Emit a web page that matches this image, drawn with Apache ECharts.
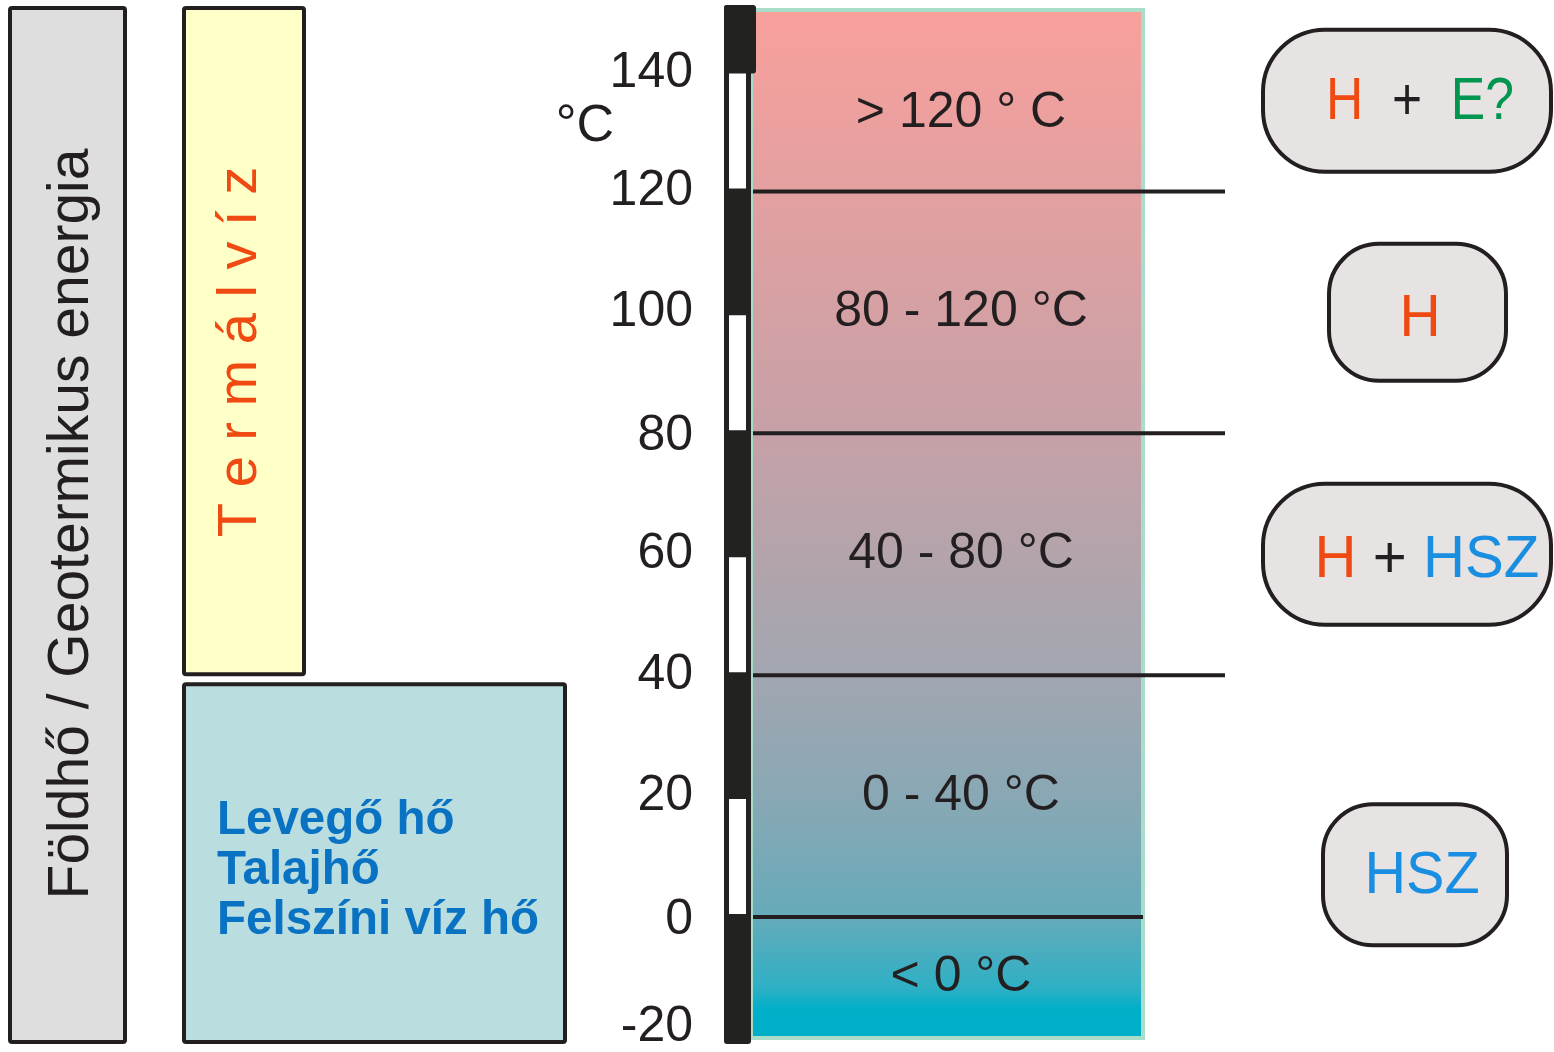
<!DOCTYPE html>
<html><head><meta charset="utf-8">
<script src="https://cdn.jsdelivr.net/npm/echarts@6/dist/echarts.min.js"></script>
<style>html,body{margin:0;padding:0;background:#fff;overflow:hidden}#c{width:1554px;height:1052px}</style>
</head><body><div id="c"></div>
<script>
// ---- data ----
const tempTicks = [-20, 0, 20, 40, 60, 80, 100, 120, 140];
const axisRange = [-20, 150];
const dividers = [120, 80, 40, 0];
const dividerLong = [true, true, true, false];
const bandLabels = ['> 120 ° C', '80 - 120 °C', '40 - 80 °C', '0 - 40 °C', '< 0 °C'];
const bandLabelTemps = [133, 100, 60, 20, -10];
const whiteSegments = [[120, 140], [80, 100], [40, 60], [0, 20]];
const columnNames = ['Földhő / Geotermikus energia', 'T e r m á l v í z', 'Levegő hő\nTalajhő\nFelszíni víz hő'];
const columnRanges = [[-20, 150], [40, 150], [-20, 38.5]];
const useLabels = ['H  +  E?', 'H', 'H + HSZ', 'HSZ'];
const useTemps = [135, 100, 60, 7];

// ---- styling / layout ----
const FONT = '"Liberation Sans", Arial, sans-serif';
const INK = '#231F20';
const colLayout = [
  {x0: 10, x1: 125, fill: '#DEDEDE', padT: -2, padB: 4, tx: 72, ty: 524, rot: Math.PI / 2, size: 57, color: INK, align: 'center', weight: 'normal', lh: 50},
  {x0: 184, x1: 304, fill: '#FFFFC8', padT: -2, padB: -1, tx: 241, ty: 352, rot: Math.PI / 2, size: 56, color: '#EF4A12', align: 'center', weight: 'normal', lh: 50},
  {x0: 184, x1: 565, fill: '#BADDDF', padT: 0, padB: 4, tx: 217, ty: 871, rot: 0, size: 47.5, color: '#0A72C2', align: 'left', weight: 'bold', lh: 50}
];
const badgeLayout = [
  {x0: 1263, x1: 1551, h: 142, r: 62, tx: 1420, dy: 2, sx: 0.86},
  {x0: 1329, x1: 1506, h: 137, r: 50, tx: 1420, dy: 7, sx: 0.95},
  {x0: 1263, x1: 1551, h: 141, r: 62, tx: 1427, dy: 6, sx: 0.97},
  {x0: 1323, x1: 1507, h: 141, r: 50, tx: 1422, dy: 2, sx: 0.96}
];
const BAR_X0 = 724, BAR_X1 = 751;

function yOf(api, v) { return api.coord([0, v])[1]; }

function richLabel(s) {
  return s.replace(/HSZ|H|E\?|\+/g, m =>
    m === 'HSZ' ? '{s|HSZ}' : m === 'H' ? '{h|H}' : m === '+' ? '{p|+}' : '{e|E?}');
}

const chart = echarts.init(document.getElementById('c'), null, {renderer: 'canvas'});

const tickRich = {
  a: {fontSize: 50, fontFamily: FONT, color: INK},
  d: {fontSize: 50, fontFamily: FONT, color: INK, padding: [6, 0, 0, 0]},
  b: {fontSize: 50, fontFamily: FONT, color: INK, padding: [0, 0, 22, 0]}
};

const option = {
  animation: false,
  backgroundColor: '#ffffff',
  grid: {left: 751, right: 1554 - 1143, top: 10, bottom: 11},
  xAxis: {type: 'value', min: 0, max: 1, show: false},
  yAxis: {
    type: 'value', min: axisRange[0], max: axisRange[1], interval: 20,
    axisLine: {show: false}, axisTick: {show: false}, splitLine: {show: false},
    axisLabel: {
      margin: 58, color: INK, fontSize: 50, fontFamily: FONT,
      formatter: v => {
        if (!tempTicks.includes(v)) return '';
        const k = v === -20 ? 'b' : (v === 140 || v === 0 || v === 80) ? 'd' : 'a';
        return '{' + k + '|' + v + '}';
      },
      rich: tickRich
    }
  },
  graphic: [
    {type: 'text', x: 585, y: 127, z: 10,
     style: {text: '°C', fontSize: 52, fontFamily: FONT, fill: INK, align: 'center', verticalAlign: 'middle'}}
  ],
  series: [
    // left columns
    {
      type: 'custom', clip: false, z: 1, silent: true,
      data: columnRanges.map(r => [0, r[0], r[1]]),
      renderItem: (params, api) => {
        const L = colLayout[params.dataIndex];
        const yT = yOf(api, api.value(2)) + L.padT;
        const yB = yOf(api, api.value(1)) + L.padB;
        return {type: 'group', children: [
          {type: 'rect', shape: {x: L.x0, y: yT, width: L.x1 - L.x0, height: yB - yT, r: 2},
           style: {fill: L.fill, stroke: INK, lineWidth: 4}},
          {type: 'text', x: L.tx, y: L.ty, rotation: L.rot,
           style: {text: columnNames[params.dataIndex], fontSize: L.size, fontFamily: FONT, fontWeight: L.weight,
                   fill: L.color, align: L.align, verticalAlign: 'middle', lineHeight: L.lh}}
        ]};
      }
    },
    // gradient temperature column
    {
      type: 'custom', clip: false, z: 2, silent: true,
      data: [[0, axisRange[0], axisRange[1]]],
      renderItem: (params, api) => {
        const cs = params.coordSys;
        const yT = yOf(api, api.value(2));
        const yB = yOf(api, api.value(1));
        return {type: 'rect', shape: {x: cs.x, y: yT, width: cs.width, height: yB - yT},
          style: {
            fill: new echarts.graphic.LinearGradient(0, 0, 0, 1, [
              {offset: 0, color: '#F9A09B'},
              {offset: 0.18, color: '#E3A0A1'},
              {offset: 0.41, color: '#C6A1A7'},
              {offset: 0.64, color: '#A3A6B0'},
              {offset: 0.78, color: '#85A8B5'},
              {offset: 0.88, color: '#66AAB9'},
              {offset: 0.95, color: '#2EB0C5'},
              {offset: 0.97, color: '#00AFC7'},
              {offset: 1, color: '#00AFC7'}
            ]),
            stroke: '#A9DCC9', lineWidth: 4
          }};
      }
    },
    // divider lines
    {
      type: 'custom', clip: false, z: 3, silent: true,
      data: dividers.map(d => [0, d]),
      renderItem: (params, api) => {
        const cs = params.coordSys;
        const y = yOf(api, api.value(1));
        const x1 = dividerLong[params.dataIndex] ? 1225 : cs.x + cs.width;
        return {type: 'line', shape: {x1: cs.x + 2, y1: y, x2: x1, y2: y},
          style: {stroke: INK, lineWidth: 4}};
      }
    },
    // band labels
    {
      type: 'custom', clip: false, z: 4, silent: true,
      data: bandLabelTemps.map(t => [0, t]),
      renderItem: (params, api) => {
        const cs = params.coordSys;
        const y = yOf(api, api.value(1));
        return {type: 'text', x: cs.x + cs.width / 2 + 14, y: y,
          style: {text: bandLabels[params.dataIndex], fontSize: 50, fontFamily: FONT, fill: INK,
                  align: 'center', verticalAlign: 'middle'}};
      }
    },
    // black scale bar
    {
      type: 'custom', clip: false, z: 5, silent: true,
      data: [[0, axisRange[0], axisRange[1]]],
      renderItem: (params, api) => {
        const yT = yOf(api, api.value(2)) - 5;
        const yB = yOf(api, api.value(1)) + 6;
        const y140 = yOf(api, 140) + 3;
        return {type: 'group', children: [
          {type: 'rect', shape: {x: BAR_X0, y: yT, width: BAR_X1 - BAR_X0, height: yB - yT, r: 3},
           style: {fill: '#222220'}},
          {type: 'rect', shape: {x: BAR_X0, y: yT, width: BAR_X1 - BAR_X0 + 5, height: y140 - yT, r: 3},
           style: {fill: '#222220'}}
        ]};
      }
    },
    // white scale segments
    {
      type: 'custom', clip: false, z: 6, silent: true,
      data: whiteSegments.map(s => [0, s[0], s[1]]),
      renderItem: (params, api) => {
        const yT = yOf(api, api.value(2)) + 3;
        const yB = yOf(api, api.value(1)) - 3;
        return {type: 'rect', shape: {x: BAR_X0 + 5, y: yT, width: 17, height: yB - yT},
          style: {fill: '#FFFFFF'}};
      }
    },
    // usage badges
    {
      type: 'custom', clip: false, z: 7, silent: true,
      data: useTemps.map(t => [0, t]),
      renderItem: (params, api) => {
        const B = badgeLayout[params.dataIndex];
        const yc = yOf(api, api.value(1));
        return {type: 'group', children: [
          {type: 'rect', shape: {x: B.x0, y: yc - B.h / 2, width: B.x1 - B.x0, height: B.h, r: B.r},
           style: {fill: '#E7E3E3', stroke: INK, lineWidth: 4}},
          {type: 'text', x: B.tx, y: yc + B.dy, scaleX: B.sx,
           style: {text: richLabel(useLabels[params.dataIndex]), fontSize: 60, fontFamily: FONT, fill: INK,
                   align: 'center', verticalAlign: 'middle',
                   rich: {
                     h: {fontSize: 60, fontFamily: FONT, fill: '#EF4A12'},
                     p: {fontSize: 60, fontFamily: FONT, fill: INK},
                     e: {fontSize: 60, fontFamily: FONT, fill: '#00964F'},
                     s: {fontSize: 60, fontFamily: FONT, fill: '#1A8EE0'}
                   }}}
        ]};
      }
    }
  ]
};
chart.setOption(option);
</script>
</body></html>
